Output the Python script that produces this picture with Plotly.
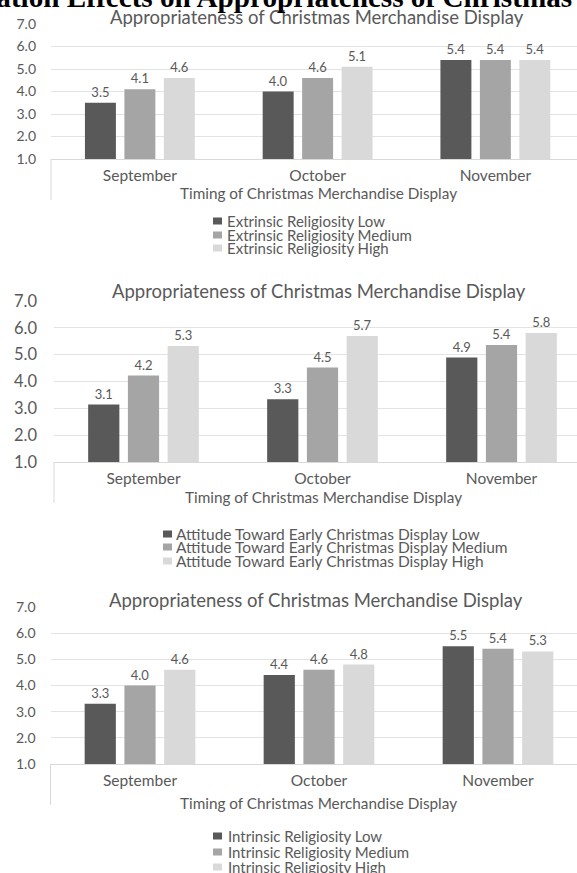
import plotly.graph_objects as go

W, H = 577, 873

# ---------------- data ----------------
months = ["September", "October", "November"]
levels = ["Low", "Medium", "High"]
colors = ["#595959", "#a5a5a5", "#d9d9d9"]

ext_low = [3.5, 4.0, 5.4]
ext_med = [4.1, 4.6, 5.4]
ext_high = [4.6, 5.1, 5.4]

att_low = [3.14, 3.34, 4.89]
att_med = [4.22, 4.52, 5.36]
att_high = [5.32, 5.70, 5.81]

int_low = [3.3, 4.4, 5.5]
int_med = [4.0, 4.6, 5.4]
int_high = [4.6, 4.8, 5.3]

moderators = ["Extrinsic Religiosity",
              "Attitude Toward Early Christmas Display",
              "Intrinsic Religiosity"]
chart_title = "Appropriateness of Christmas Merchandise Display"
x_title = "Timing of Christmas Merchandise Display"
page_title = "Moderation Effects on Appropriateness of Christmas Merchandise Display"
y_min, y_max = 1, 7

series = [[ext_low, ext_med, ext_high],
          [att_low, att_med, att_high],
          [int_low, int_med, int_high]]

# ---------------- layout (pixels) ----------------
FONT = "Lato"
TXT = "#595959"
panels = [
    dict(top=24, bottom=159, left=51, spacing=177.75, title=(317, 17), xt=(318.5, 193),
         leg=(213, 227, [221, 235, 248]), ytick=14, ystand=14, legfs=15),
    dict(top=301, bottom=462, left=54, spacing=179, title=(319, 291), xt=(323.5, 497),
         leg=(163, 176, [534, 547, 561]), ytick=16.5, ystand=16, legfs=15.5),
    dict(top=607, bottom=764, left=50.5, spacing=179, title=(316, 600), xt=(318.5, 803),
         leg=(213, 228, [836, 852, 867]), ytick=14, ystand=14, legfs=15),
]

def px(x):
    return x / W

def py(y):
    return (H - y) / H

fig = go.Figure()
annotations = []
shapes = []

for i, (p, vals, mod) in enumerate(zip(panels, series, moderators)):
    sfx = "" if i == 0 else str(i + 1)
    for lev, v, c in zip(levels, vals, colors):
        fig.add_trace(go.Bar(
            x=list(range(len(months))), y=v, name=f"{mod} {lev}",
            marker=dict(color=c, line=dict(width=0)),
            text=[f"{a:.1f}" for a in v], textposition="outside",
            constraintext="none", cliponaxis=False,
            textfont=dict(family=FONT, size=13, color=TXT),
            xaxis="x" + sfx, yaxis="y" + sfx, showlegend=False,
            hoverinfo="skip",
        ))
    x_hi = -0.5 + (W - p["left"]) / p["spacing"]
    fig.layout["xaxis" + sfx] = dict(
        domain=[px(p["left"]), 1], range=[-0.5, x_hi], anchor="y" + sfx,
        tickvals=list(range(len(months))), ticktext=months,
        tickfont=dict(family=FONT, size=15.5, color=TXT),
        showgrid=False, zeroline=False, showline=True, linecolor="#d9d9d9",
        linewidth=1, ticks="", ticklabelstandoff=2, fixedrange=True,
        automargin=False,
    )
    fig.layout["yaxis" + sfx] = dict(
        domain=[py(p["bottom"]), py(p["top"])], range=[y_min, y_max],
        anchor="x" + sfx, dtick=1, tickformat=".1f",
        tickfont=dict(family=FONT, size=p["ytick"], color=TXT),
        showgrid=True, gridcolor="#e3e3e3", gridwidth=1, zeroline=False,
        showline=False, ticks="", ticklabelstandoff=p["ystand"], fixedrange=True,
        automargin=False,
    )
    # chart title
    annotations.append(dict(text=chart_title, x=px(p["title"][0]), y=py(p["title"][1]),
                            xref="paper", yref="paper", xanchor="center", yanchor="middle",
                            showarrow=False, font=dict(family=FONT, size=18.5, color=TXT)))
    # axis title
    annotations.append(dict(text=x_title, x=px(p["xt"][0]), y=py(p["xt"][1]),
                            xref="paper", yref="paper", xanchor="center", yanchor="middle",
                            showarrow=False, font=dict(family=FONT, size=15.3, color=TXT)))
    # left category boundary line
    shapes.append(dict(type="line", xref="paper", yref="paper",
                       x0=px(p["left"]), x1=px(p["left"]),
                       y0=py(p["bottom"]), y1=py(p["bottom"] + 41),
                       line=dict(color="#d9d9d9", width=1)))
    # legend
    sq_x, tx_x, rows = p["leg"]
    for lev, c, ry in zip(levels, colors, rows):
        shapes.append(dict(type="rect", xref="paper", yref="paper",
                           x0=px(sq_x), x1=px(sq_x + 9), y0=py(ry + 3.5), y1=py(ry - 3.5),
                           fillcolor=c, line=dict(width=0)))
        annotations.append(dict(text=f"{mod} {lev}", x=px(tx_x - 2), y=py(ry),
                                xref="paper", yref="paper", xanchor="left", yanchor="middle",
                                showarrow=False, font=dict(family=FONT, size=p["legfs"], color=TXT)))

# clipped page heading at the very top
annotations.append(dict(text=f"<b>{page_title}</b>", x=px(-90), y=py(-2.6),
                        xref="paper", yref="paper", xanchor="left", yanchor="middle",
                        showarrow=False,
                        font=dict(family="Liberation Serif", size=29.2, color="#000000")))

fig.update_layout(
    width=W, height=H, margin=dict(l=0, r=0, t=0, b=0),
    paper_bgcolor="white", plot_bgcolor="white",
    barmode="group", bargap=0.334, bargroupgap=0.215,
    annotations=annotations, shapes=shapes, showlegend=False,
)

fig.write_html("out.html", config={"displayModeBar": False},
               post_script="document.body.style.margin='0';")
